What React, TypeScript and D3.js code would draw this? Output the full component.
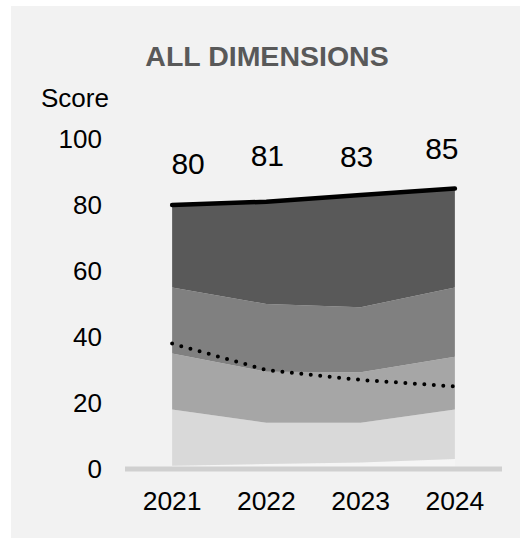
import React from "react";
import * as d3 from "d3";

const years = ["2021", "2022", "2023", "2024"];
const baseBand = [1, 1.5, 2, 3];
const band1 = [17, 12.5, 12, 15];
const band2 = [17, 15.5, 15.3, 16];
const band3 = [20, 20.5, 19.7, 21];
const band4 = [25, 31, 34, 30];
const totals = [80, 81, 83, 85];
const dotted = [38, 30, 27, 25];
const yTicks = [0, 20, 40, 60, 80, 100];

const W = 520;
const H = 538;
const bandColors = ["#f5f5f5", "#d9d9d9", "#a6a6a6", "#808080", "#595959"];
const labelNudge = [
  [16, -31],
  [1, -36],
  [-4, -28],
  [-13, -29.5],
];

export default function App() {
  const x = d3.scaleBand<string>().domain(years).range([125, 502]).padding(0);
  const cx = (i: number) => (x(years[i]) as number) + x.bandwidth() / 2;
  const y = d3.scaleLinear().domain([0, 100]).range([469, 139]);

  const keys = ["b0", "b1", "b2", "b3", "b4"];
  const rows = years.map((yr, i) => ({
    year: yr,
    b0: baseBand[i],
    b1: band1[i],
    b2: band2[i],
    b3: band3[i],
    b4: band4[i],
  }));
  const stacked = d3.stack<any>().keys(keys)(rows);
  const area = d3
    .area<any>()
    .x((_d, i) => cx(i))
    .y0((d) => y(d[0]))
    .y1((d) => y(d[1]));

  const totalLine = d3
    .line<number>()
    .x((_d, i) => cx(i))
    .y((d) => y(d));

  const font = "Liberation Sans, Arial, sans-serif";

  return (
    <svg
      width={W}
      height={H}
      style={{ position: "absolute", left: 0, top: 0, background: "#ffffff" }}
    >
      <rect x={11} y={6} width={W - 11} height={H - 6} fill="#f2f2f2" />
      <text
        x={267}
        y={65.5}
        textAnchor="middle"
        fontFamily={font}
        fontWeight="bold"
        fontSize={28.5}
        fill="#595959"
      >
        ALL DIMENSIONS
      </text>
      <text x={41} y={107} fontFamily={font} fontSize={26} fill="#000">
        Score
      </text>
      {yTicks.map((t) => (
        <text
          key={t}
          x={102}
          y={y(t) + 9.3}
          textAnchor="end"
          fontFamily={font}
          fontSize={26}
          fill="#000"
        >
          {t}
        </text>
      ))}
      {stacked.map((s, k) => (
        <path key={k} d={area(s as any) as string} fill={bandColors[k]} />
      ))}
      <line
        x1={125}
        x2={502}
        y1={y(0)}
        y2={y(0)}
        stroke="#d0d0d0"
        strokeWidth={5}
      />
      <path
        d={totalLine(totals) as string}
        fill="none"
        stroke="#000"
        strokeWidth={4.5}
        strokeLinecap="round"
        strokeLinejoin="round"
      />
      <path
        d={totalLine(dotted) as string}
        fill="none"
        stroke="#000"
        strokeWidth={4}
        strokeLinecap="round"
        strokeDasharray="0 9.5"
      />
      {totals.map((v, i) => (
        <text
          key={i}
          x={cx(i) + labelNudge[i][0]}
          y={y(v) + labelNudge[i][1]}
          textAnchor="middle"
          fontFamily={font}
          fontSize={30}
          fill="#000"
        >
          {v}
        </text>
      ))}
      {years.map((yr, i) => (
        <text
          key={yr}
          x={cx(i)}
          y={510}
          textAnchor="middle"
          fontFamily={font}
          fontSize={26.5}
          fill="#000"
        >
          {yr}
        </text>
      ))}
    </svg>
  );
}
